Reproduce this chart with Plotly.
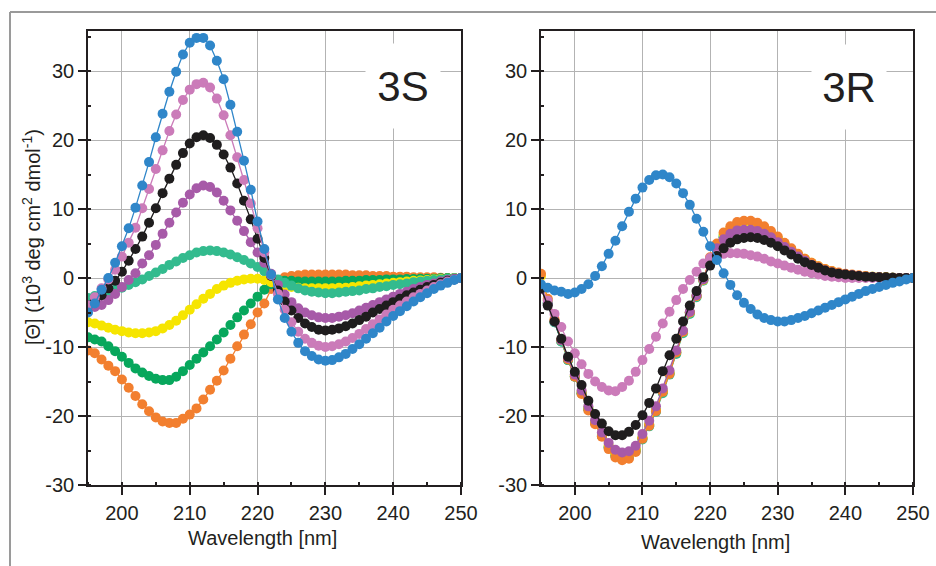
import plotly.graph_objects as go

wavelength = list(range(195, 251))

# ---- 3S panel ----
s_orange = [-10.5, -10.9, -11.8, -12.7, -13.5, -14.7, -15.9, -17.1, -18.3, -19.3, -20.2, -20.8, -21.0, -21.0, -20.4, -19.8,
            -18.9, -17.6, -16.2, -14.9, -13.4, -11.7, -9.9, -8.2, -6.7, -5.0, -3.7, -1.6, -0.4, 0.1, 0.3, 0.4, 0.5, 0.5, 0.5, 0.5,
            0.5, 0.5, 0.5, 0.4, 0.4, 0.4, 0.3, 0.3, 0.3, 0.2, 0.2, 0.2, 0.1, 0.1, 0.1, 0.1, 0.05, 0.0, 0.0, 0.0]
s_green = [-8.6, -8.9, -9.2, -9.9, -10.6, -11.4, -12.3, -13.1, -13.7, -14.2, -14.6, -14.8, -14.8, -14.3, -13.5, -12.6,
           -11.7, -10.8, -9.9, -8.9, -7.9, -6.8, -5.7, -4.7, -3.7, -2.7, -1.7, -0.9, -0.5, -0.4, -0.4, -0.5, -0.5, -0.5, -0.5, -0.5,
           -0.5, -0.5, -0.4, -0.4, -0.4, -0.3, -0.3, -0.3, -0.2, -0.2, -0.2, -0.15, -0.15, -0.1, -0.1, -0.1, -0.05, 0.0, 0.0, 0.0]
s_yellow = [-6.4, -6.6, -6.9, -7.2, -7.5, -7.7, -7.9, -8.0, -8.0, -7.9, -7.7, -7.3, -6.8, -6.2, -5.4, -4.6,
            -3.8, -3.0, -2.3, -1.6, -1.1, -0.7, -0.4, -0.2, -0.1, -0.1, -0.3, -0.6, -0.9, -1.1, -1.3, -1.4, -1.5, -1.5, -1.5, -1.5,
            -1.5, -1.4, -1.4, -1.3, -1.2, -1.1, -1.0, -0.9, -0.8, -0.7, -0.6, -0.5, -0.4, -0.35, -0.3, -0.2, -0.15, -0.1, -0.05, 0.0]
s_teal = [-2.9, -2.6, -2.3, -2.0, -1.7, -1.4, -1.0, -0.6, -0.2, 0.3, 0.8, 1.3, 1.9, 2.4, 2.9, 3.3,
          3.7, 3.9, 4.0, 3.9, 3.7, 3.4, 3.0, 2.6, 2.1, 1.6, 1.0, 0.4, -0.2, -0.7, -1.1, -1.5, -1.8, -2.0, -2.1, -2.2,
          -2.2, -2.1, -2.0, -1.9, -1.8, -1.6, -1.5, -1.3, -1.2, -1.0, -0.9, -0.8, -0.6, -0.5, -0.4, -0.3, -0.2, -0.1, -0.05, 0.0]
s_purple = [-4.0, -4.2, -3.9, -3.2, -2.3, -1.3, -0.3, 0.7, 2.1, 3.3, 4.8, 6.4, 8.0, 9.5, 10.9, 12.1,
            13.0, 13.4, 13.2, 12.4, 11.2, 9.8, 8.3, 6.8, 5.2, 3.7, 2.2, 0.6, -1.0, -2.4, -3.5, -4.4, -5.0, -5.4, -5.7, -5.8,
            -5.8, -5.6, -5.4, -5.1, -4.7, -4.3, -3.9, -3.5, -3.1, -2.7, -2.3, -2.0, -1.6, -1.3, -1.0, -0.8, -0.5, -0.3, -0.1, 0.0]
s_black = [-4.0, -3.3, -2.5, -1.5, -0.4, 0.9, 2.5, 4.2, 6.0, 8.0, 10.1, 12.3, 14.4, 16.4, 18.1, 19.5,
           20.4, 20.7, 20.3, 19.3, 17.9, 16.0, 13.7, 11.2, 8.5, 5.7, 2.9, 0.3, -1.8, -3.4, -4.7, -5.8, -6.6, -7.1, -7.5, -7.6,
           -7.5, -7.3, -7.0, -6.6, -6.1, -5.6, -5.0, -4.5, -4.0, -3.5, -3.0, -2.5, -2.1, -1.7, -1.3, -1.0, -0.7, -0.4, -0.2, 0.0]
s_pink = [-4.0, -2.8, -1.5, -0.2, 1.2, 3.1, 5.1, 7.3, 10.1, 12.9, 15.8, 18.5, 21.3, 23.7, 25.8, 27.3,
          28.1, 28.3, 27.6, 26.0, 23.6, 20.7, 17.5, 14.2, 10.8, 7.2, 3.7, 0.4, -2.3, -4.6, -6.4, -7.8, -8.8, -9.4, -9.8, -10.0,
          -9.9, -9.6, -9.2, -8.7, -8.1, -7.4, -6.7, -6.0, -5.3, -4.6, -4.0, -3.4, -2.8, -2.3, -1.8, -1.3, -0.9, -0.5, -0.2, 0.0]
s_blue = [-5.0, -3.7, -1.7, 0.0, 2.2, 4.6, 7.2, 10.2, 13.4, 16.8, 20.4, 23.8, 27.0, 29.9, 32.4, 34.1,
          34.8, 34.8, 33.7, 31.5, 28.8, 25.1, 21.2, 17.0, 12.8, 8.2, 4.2, 0.5, -3.1, -5.8, -7.8, -9.4, -10.6, -11.3, -11.8, -12.0,
          -11.9, -11.5, -11.0, -10.3, -9.6, -8.8, -8.0, -7.2, -6.3, -5.5, -4.8, -4.1, -3.4, -2.8, -2.2, -1.6, -1.1, -0.7, -0.3, 0.0]

# ---- 3R panel ----
r_orange = [0.6, -3.0, -6.0, -9.0, -11.8, -14.3, -16.8, -19.2, -21.2, -23.0, -24.8, -26.0, -26.4, -26.2, -25.2, -23.3,
            -21.4, -19.3, -16.5, -13.9, -10.8, -7.8, -5.0, -2.6, -0.2, 3.0, 5.0, 6.6, 7.5, 8.1, 8.3, 8.3, 8.0, 7.5, 6.8, 6.0,
            5.1, 4.3, 3.5, 2.8, 2.2, 1.7, 1.3, 1.0, 0.8, 0.6, 0.5, 0.4, 0.3, 0.2, 0.15, 0.1, 0.05, 0.0, 0.0, 0.0]
r_green = [-1.6, -3.7, -6.4, -9.2, -11.9, -14.3, -16.7, -19.0, -21.0, -22.9, -24.5, -25.7, -26.0, -25.8, -24.9, -23.2,
           -21.3, -19.2, -16.5, -13.8, -10.8, -7.8, -5.0, -2.6, -0.3, 2.6, 4.5, 5.9, 6.8, 7.3, 7.4, 7.4, 7.2, 6.8, 6.2, 5.5,
           4.8, 4.0, 3.3, 2.6, 2.0, 1.5, 1.1, 0.8, 0.6, 0.5, 0.4, 0.3, 0.2, 0.15, 0.1, 0.1, 0.05, 0.0, 0.0, 0.0]
r_yellow = [0.3, -3.2, -6.2, -9.0, -11.7, -14.1, -16.5, -18.8, -20.8, -22.6, -24.3, -25.5, -25.9, -25.7, -24.8, -23.1,
            -21.2, -19.1, -16.4, -13.7, -10.7, -7.8, -5.0, -2.6, -0.3, 2.8, 4.8, 6.3, 7.2, 7.7, 7.8, 7.8, 7.6, 7.1, 6.5, 5.8,
            5.0, 4.2, 3.4, 2.8, 2.2, 1.7, 1.3, 1.0, 0.7, 0.5, 0.4, 0.3, 0.25, 0.2, 0.15, 0.1, 0.05, 0.0, 0.0, 0.0]
r_teal = [-1.5, -3.6, -6.4, -9.2, -11.9, -14.3, -16.7, -19.0, -21.0, -22.9, -24.6, -25.8, -26.2, -26.0, -25.1, -23.4,
          -21.5, -19.4, -16.7, -14.0, -11.0, -8.0, -5.2, -2.8, -0.4, 2.6, 4.6, 6.1, 7.0, 7.5, 7.6, 7.6, 7.4, 7.0, 6.4, 5.7,
          4.9, 4.1, 3.4, 2.7, 2.1, 1.6, 1.2, 0.9, 0.7, 0.5, 0.4, 0.3, 0.25, 0.2, 0.15, 0.1, 0.05, 0.0, 0.0, 0.0]
r_purple = [-1.6, -3.8, -6.3, -9.0, -11.6, -14.0, -16.3, -18.6, -20.6, -22.4, -23.9, -24.9, -25.3, -25.1, -24.3, -22.6,
            -20.7, -18.6, -16.0, -13.4, -10.5, -7.6, -4.9, -2.5, -0.2, 2.5, 4.3, 5.6, 6.4, 6.9, 7.0, 7.0, 6.8, 6.4, 5.9, 5.2,
            4.5, 3.8, 3.1, 2.5, 1.9, 1.5, 1.1, 0.8, 0.6, 0.5, 0.4, 0.3, 0.2, 0.15, 0.1, 0.05, 0.05, 0.0, 0.0, 0.0]
r_black = [-1.5, -4.0, -6.3, -8.8, -11.4, -13.6, -15.5, -17.8, -19.7, -21.1, -22.2, -22.8, -22.8, -22.3, -21.3, -19.9,
           -18.1, -16.0, -13.5, -11.2, -8.8, -6.3, -4.0, -1.9, 0.1, 1.8, 3.2, 4.3, 5.1, 5.6, 5.8, 5.9, 5.8, 5.5, 5.1, 4.6,
           4.0, 3.4, 2.8, 2.3, 1.9, 1.5, 1.1, 0.8, 0.6, 0.5, 0.4, 0.3, 0.2, 0.15, 0.1, 0.1, 0.05, 0.0, 0.0, 0.0]
r_pink = [-1.3, -3.3, -5.2, -7.1, -9.2, -10.9, -12.5, -13.9, -15.0, -15.8, -16.3, -16.4, -15.8, -14.9, -13.6, -11.9,
          -10.3, -8.5, -6.6, -4.9, -3.2, -1.6, -0.3, 0.9, 2.1, 2.9, 3.3, 3.5, 3.6, 3.6, 3.5, 3.3, 3.1, 2.8, 2.4, 2.1,
          1.8, 1.5, 1.2, 0.9, 0.7, 0.5, 0.3, 0.2, 0.1, 0.0, 0.0, 0.0, 0.0, 0.0, 0.0, 0.0, 0.0, 0.0, 0.0, 0.0]
r_blue = [-0.9, -1.4, -1.8, -2.0, -2.3, -2.1, -1.6, -0.9, 0.3, 1.7, 3.5, 5.4, 7.5, 9.6, 11.5, 13.1,
          14.2, 14.9, 15.0, 14.6, 13.7, 12.3, 10.6, 8.6, 6.7, 4.6, 2.6, 0.7, -1.0, -2.5, -3.6, -4.5, -5.3, -5.8, -6.1, -6.3,
          -6.3, -6.1, -5.8, -5.5, -5.1, -4.7, -4.3, -3.9, -3.5, -3.1, -2.7, -2.3, -1.9, -1.6, -1.3, -1.0, -0.7, -0.5, -0.2, 0.0]

panel_labels = ["3S", "3R"]
x_title = "Wavelength [nm]"
y_title = "[Θ] (10<sup>3</sup> deg cm<sup>2</sup> dmol<sup>-1</sup>)"
x_ticks = [200, 210, 220, 230, 240, 250]
y_ticks = [-30, -20, -10, 0, 10, 20, 30]
y_tick_text = ["-30", "-20", "-10", "0", "10", "20", "30"]

color_orange = "#f27f2f"
color_green = "#07a75c"
color_yellow = "#f6e500"
color_teal = "#33bb8e"
color_purple = "#a75aa8"
color_black = "#1f1d1e"
color_pink = "#cb7bb9"
color_blue = "#2f86c9"

series_3s = [(s_orange, color_orange), (s_green, color_green), (s_yellow, color_yellow), (s_teal, color_teal),
             (s_purple, color_purple), (s_black, color_black), (s_pink, color_pink), (s_blue, color_blue)]
series_3r = [(r_green, color_green), (r_teal, color_teal), (r_yellow, color_yellow), (r_orange, color_orange),
             (r_purple, color_purple), (r_pink, color_pink), (r_black, color_black), (r_blue, color_blue)]

fig = go.Figure()
for vals, col in series_3s:
    assert len(vals) == len(wavelength)
    fig.add_trace(go.Scatter(x=wavelength, y=vals, mode="lines+markers", xaxis="x", yaxis="y",
                             line=dict(color=col, width=1.3), marker=dict(color=col, size=10),
                             showlegend=False, hoverinfo="skip"))
for vals, col in series_3r:
    assert len(vals) == len(wavelength)
    fig.add_trace(go.Scatter(x=wavelength, y=vals, mode="lines+markers", xaxis="x2", yaxis="y2",
                             line=dict(color=col, width=1.3), marker=dict(color=col, size=10),
                             showlegend=False, hoverinfo="skip"))

W, H = 936, 566
font_family = "Liberation Sans, Arial, Helvetica, sans-serif"
ink = "#231f20"

def xaxis_cfg(x0, x1, anchor):
    return dict(domain=[x0 / W, x1 / W], range=[195, 250], anchor=anchor,
                tickmode="array", tickvals=x_ticks,
                ticks="outside", ticklen=8, tickwidth=1.5, tickcolor=ink,
                minor=dict(tickmode="linear", tick0=195, dtick=5, ticks="inside", ticklen=3, tickcolor=ink, showgrid=False),
                showline=True, linecolor=ink, linewidth=1.6, mirror=True,
                showgrid=True, gridcolor="#b3b3b3", gridwidth=1, zeroline=False,
                tickfont=dict(size=20, color=ink, family=font_family),
                ticklabelstandoff=1,
                automargin=False)

def yaxis_cfg(anchor):
    return dict(domain=[1 - 485 / H, 1 - 31 / H], range=[-30, 35.8], anchor=anchor,
                tickmode="array", tickvals=y_ticks, ticktext=y_tick_text,
                ticks="outside", ticklen=8, tickwidth=1.5, tickcolor=ink,
                minor=dict(tickmode="linear", tick0=-30, dtick=5, ticks="inside", ticklen=3, tickcolor=ink, showgrid=False),
                showline=True, linecolor=ink, linewidth=1.6, mirror=True,
                showgrid=True, gridcolor="#b3b3b3", gridwidth=1, zeroline=False,
                tickfont=dict(size=20, color=ink, family=font_family),
                ticklabelstandoff=0,
                automargin=False)

fig.update_layout(
    width=W, height=H,
    margin=dict(l=0, r=0, t=0, b=0),
    paper_bgcolor="white", plot_bgcolor="white",
    showlegend=False,
    xaxis=xaxis_cfg(88, 461, "y"), yaxis=yaxis_cfg("x"),
    xaxis2=xaxis_cfg(541, 913, "y2"), yaxis2=yaxis_cfg("x2"),
    font=dict(family=font_family, color=ink),
    annotations=[
        dict(text=panel_labels[0], x=241.4, y=27.8, xref="x", yref="y", showarrow=False,
             font=dict(size=42, color=ink, family=font_family), bgcolor="white",
             width=72, height=82, xanchor="center", yanchor="middle"),
        dict(text=panel_labels[1], x=240.6, y=27.7, xref="x2", yref="y2", showarrow=False,
             font=dict(size=42, color=ink, family=font_family), bgcolor="white",
             width=72, height=82, xanchor="center", yanchor="middle"),
        dict(text=x_title, x=262 / W, y=1 - 538 / H, xref="paper", yref="paper", showarrow=False,
             font=dict(size=20, color=ink, family=font_family), xanchor="center", yanchor="middle"),
        dict(text=x_title, x=715 / W, y=1 - 542 / H, xref="paper", yref="paper", showarrow=False,
             font=dict(size=20, color=ink, family=font_family), xanchor="center", yanchor="middle"),
        dict(text=y_title, x=31 / W, y=1 - 237 / H, xref="paper", yref="paper", showarrow=False, textangle=-90,
             font=dict(size=20, color=ink, family=font_family), xanchor="center", yanchor="middle"),
    ],
    shapes=[
        dict(type="line", xref="paper", yref="paper", x0=10 / W, x1=1.0, y0=1 - 12 / H, y1=1 - 12 / H,
             line=dict(color="#9a9a9a", width=2)),
        dict(type="line", xref="paper", yref="paper", x0=10 / W, x1=10 / W, y0=0.0, y1=1 - 12 / H,
             line=dict(color="#9a9a9a", width=2)),
    ],
)

fig.write_html("out.html", config={"displayModeBar": False},
               post_script="document.body.style.margin='0px';document.documentElement.style.overflow='hidden';")
